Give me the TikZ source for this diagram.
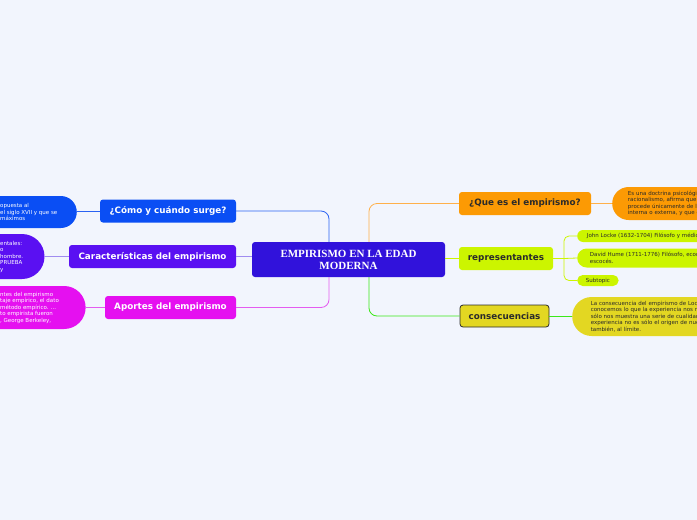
\documentclass[tikz,border=0pt]{standalone}
\usepackage{fontspec}
\setmainfont{DejaVu Sans}
\newfontfamily\titlefont{Liberation Serif}
\usepackage{tikz}
\usetikzlibrary{shapes.misc}
\definecolor{paper}{HTML}{F2F5FD}
\definecolor{croot}{HTML}{3112DB}
\definecolor{cblue}{HTML}{0A4EF4}
\definecolor{cviolet}{HTML}{5A10F2}
\definecolor{cmagenta}{HTML}{E510F0}
\definecolor{corange}{HTML}{FC9A04}
\definecolor{clime}{HTML}{CCF500}
\definecolor{cyellow}{HTML}{E3D722}
\definecolor{cdark}{HTML}{2A2A2A}
\definecolor{lblue}{HTML}{2A62F2}
\definecolor{lviolet}{HTML}{A08CF0}
\definecolor{lmagenta}{HTML}{E45CF0}
\definecolor{lorange}{HTML}{FFB04A}
\definecolor{lgreen}{HTML}{3CE81A}

\begin{document}
\begin{tikzpicture}[x=1pt,y=-1pt, every node/.style={font=\fontsize{5.5}{6.5}\selectfont}, topic/.style={rounded corners=3pt,minimum height=23pt,inner sep=0pt,font=\bfseries\fontsize{8.8}{10}\selectfont}, leaf/.style={rounded rectangle,align=left,inner xsep=2pt,inner ysep=0pt}, link/.style={line width=.8pt,rounded corners=8pt}]
\useasboundingbox (0,0) rectangle (697,520);
\fill[paper] (0,0) rectangle (697,520);
\clip (0,0) rectangle (697,520);
\node[fill=croot,rounded corners=3pt,minimum width=193pt,minimum height=35pt,inner sep=0pt,text=white,align=center,font=\titlefont\bfseries\fontsize{11}{12}\selectfont] (root) at (348.5,259.5) {EMPIRISMO EN LA EDAD\\MODERNA};
% left side
\node[topic,fill=cblue,text=white,minimum width=136pt] (como) at (168,211) {¿Cómo y cuándo surge?};
\node[topic,fill=cviolet,text=white,minimum width=167pt] (rasgos) at (152.5,256.5) {Características del empirismo};
\node[topic,fill=cmagenta,text=white,minimum width=131pt] (aportes) at (170.5,307.5) {Aportes del empirismo};
\node[leaf,rounded rectangle left arc=none,inner xsep=17pt,fill=cblue,text=white,minimum height=32pt,anchor=west] (comoleaf) at (-17,212) {opuesta al\\el siglo XVII y que se\\máximos};
\node[leaf,rounded rectangle left arc=none,inner xsep=15pt,fill=cviolet,text=white,minimum height=45pt,anchor=west] (rasgosleaf) at (-15,256.5) {entales:\\o\\ hombre.\\PRUEBA\\y};
\node[leaf,rounded rectangle left arc=none,inner xsep=20pt,fill=cmagenta,text=white,minimum height=43pt,anchor=west] (aportesleaf) at (-20,307.5) {ntes del empirismo\\taje empírico, el dato\\método empírico. ...\\to empirista fueron\\, George Berkeley,};
% right side
\node[topic,fill=corange,text=cdark,minimum width=132pt] (quees) at (525,203.5) {¿Que es el empirismo?};
\node[topic,fill=clime,text=cdark,minimum width=94pt] (repr) at (506,258.5) {representantes};
\node[topic,fill=cyellow,draw=cdark,line width=.8pt,text=cdark,minimum width=89pt,minimum height=22pt] (conse) at (504.5,316) {consecuencias};
\node[leaf,rounded rectangle right arc=none,inner xsep=10pt,fill=corange,text=cdark,text width=140pt,minimum height=33pt,anchor=west] (queleaf) at (612,203.5) {Es una doctrina psicológica\\racionalismo, afirma que el\\procede únicamente de la\\interna o externa, y que el};
\node[leaf,rounded rectangle right arc=none,inner xsep=9pt,fill=clime,text=cdark,text width=140pt,minimum height=12pt,anchor=west] (locke) at (577,236) {John Locke (1632-1704) Filósofo y médico};
\node[leaf,rounded rectangle right arc=none,inner xsep=11pt,fill=clime,text=cdark,text width=140pt,minimum height=19pt,anchor=west] (hume) at (577,258) {David Hume (1711-1776) Filósofo, economista\\escocés.};
\node[leaf,inner xsep=8pt,fill=clime,text=cdark,minimum height=11pt,anchor=west] (subt) at (577,280.5) {Subtopic};
\node[leaf,rounded rectangle right arc=none,inner xsep=11pt,fill=cyellow,text=cdark,text width=140pt,minimum height=39pt,anchor=west] (conseleaf) at (572,316.5) {La consecuencia del empirismo de Locke\\conocemos lo que la experiencia nos muestra\\sólo nos muestra una serie de cualidades\\experiencia no es sólo el origen de nuestro\\también, al límite.};
\coordinate (fork) at (564,258.5);
% connectors
\draw[link,draw=lblue] ([xshift=-19.5pt]root.north) |- (como.east);
\draw[link,draw=lviolet] (rasgos.east) -- (rasgos.east -| root.west);
\draw[link,draw=lmagenta] ([xshift=-19.5pt]root.south) |- (aportes.east);
\draw[link,draw=lblue] (como.west -| comoleaf.east) -- (como.west);
\draw[link,draw=lviolet] (rasgos.west -| rasgosleaf.east) -- (rasgos.west);
\draw[link,draw=lmagenta] (aportes.west -| aportesleaf.east) -- (aportes.west);
\draw[link,draw=lorange] ([xshift=20.5pt]root.north) |- (quees.west);
\draw[link,draw=clime] (repr.west -| root.east) -- (repr.west);
\draw[link,draw=lgreen] ([xshift=20.5pt]root.south) |- (conse.west);
\draw[link,draw=lorange] (quees.east) -- (quees.east -| queleaf.west);
\draw[link,draw=clime] (repr.east) -- (fork);
\draw[link,draw=clime,rounded corners=5pt] (fork) |- (locke.west);
\draw[link,draw=clime] (fork) -- (hume.west);
\draw[link,draw=clime,rounded corners=5pt] (fork) |- (subt.west);
\draw[link,draw=lgreen] (conse.east) -- (conse.east -| conseleaf.west);
\end{tikzpicture}
\end{document}
